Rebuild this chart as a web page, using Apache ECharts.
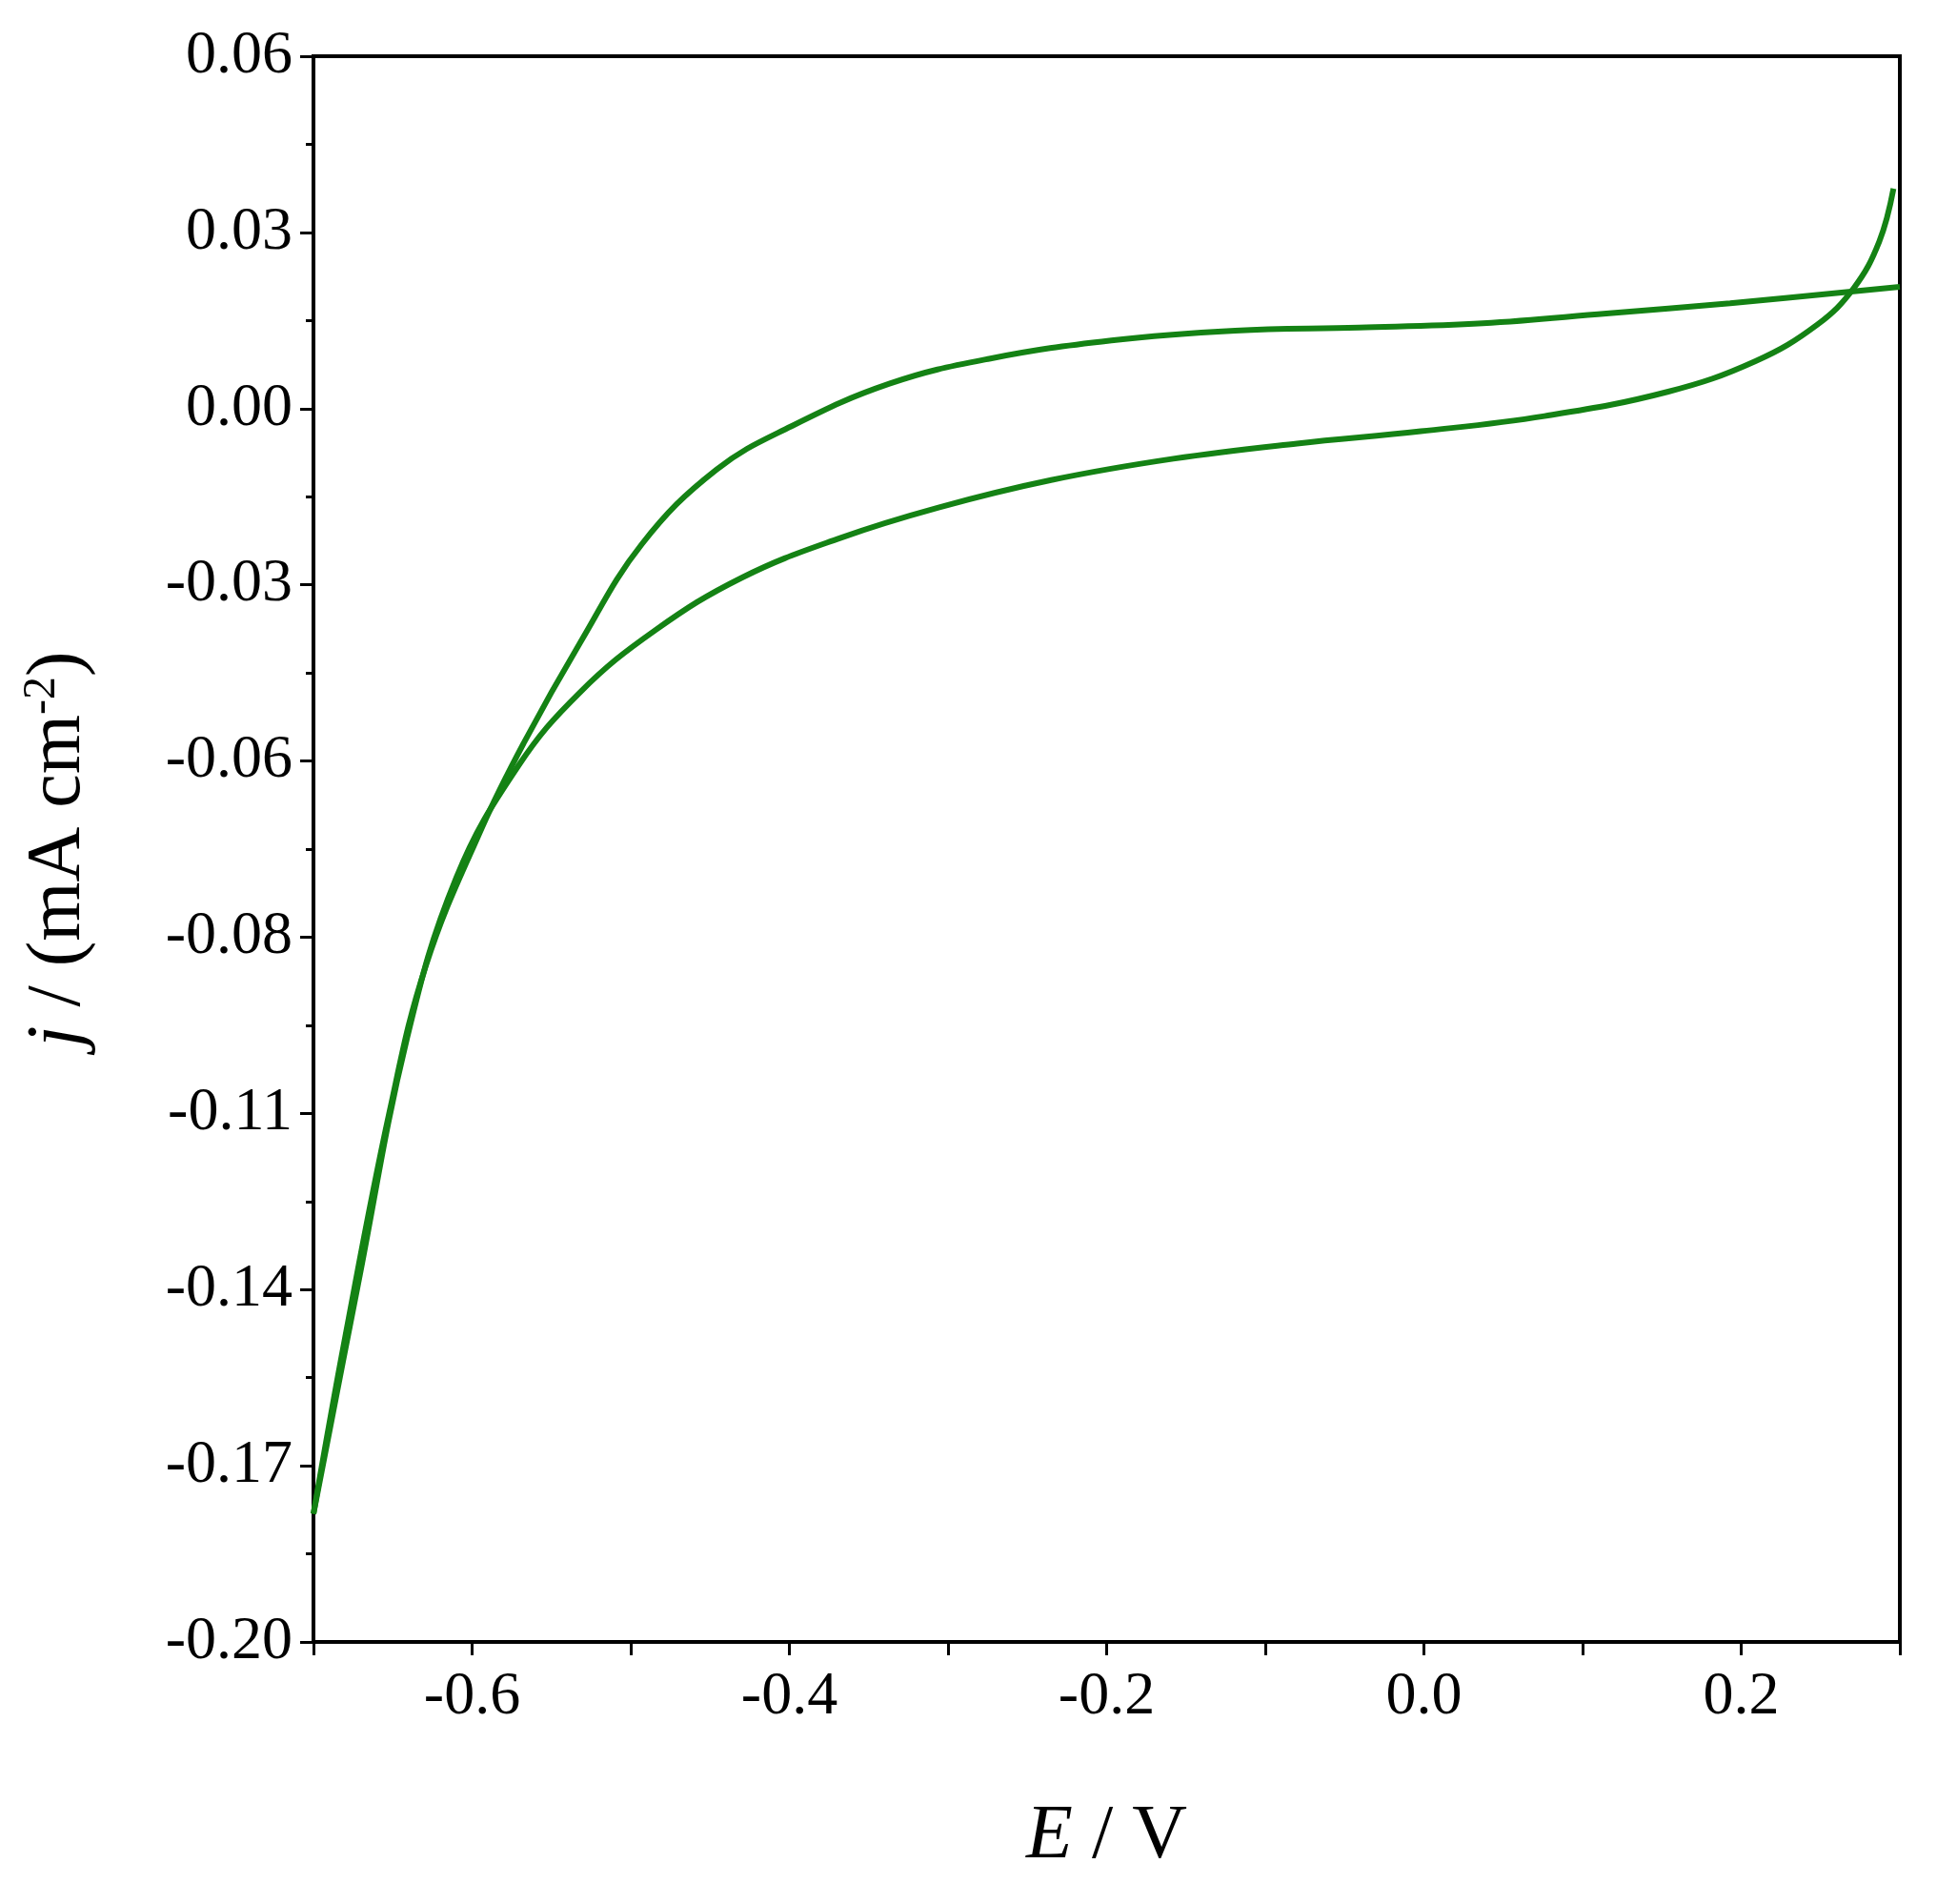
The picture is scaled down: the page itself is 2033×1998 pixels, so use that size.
<!DOCTYPE html>
<html><head><meta charset="utf-8">
<script src="https://cdn.jsdelivr.net/npm/echarts@6/dist/echarts.min.js"></script>
<style>html,body{margin:0;padding:0;background:#fff}#c{width:2033px;height:1998px}</style>
</head><body><div id="c"></div>
<script>
const forwardE = [-0.700,-0.680,-0.652,-0.629,-0.594,-0.567,-0.532,-0.493,-0.446,-0.399,-0.337,-0.274,-0.197,-0.119,-0.041,0.037,0.115,0.193,0.300];
const forwardJ = [-0.179,-0.150,-0.113,-0.089,-0.0666,-0.0524,-0.0362,-0.020,-0.0078,-0.0007,0.0063,0.0104,0.0134,0.0150,0.0155,0.0162,0.0178,0.0195,0.0222];
const reverseE = [-0.700,-0.672,-0.641,-0.610,-0.571,-0.532,-0.485,-0.430,-0.368,-0.306,-0.235,-0.158,-0.080,-0.002,0.076,0.154,0.209,0.248,0.271,0.287,0.296];
const reverseJ = [-0.179,-0.1415,-0.101,-0.0747,-0.0564,-0.0443,-0.0342,-0.0255,-0.0190,-0.0140,-0.0095,-0.0060,-0.0035,-0.0015,0.0010,0.0050,0.0100,0.0160,0.0220,0.0296,0.0383];
const chart = echarts.init(document.getElementById('c'));
const font = 'Liberation Serif';
const pair = (a,b)=>a.map((v,i)=>[v,b[i]]);
chart.setOption({
  animation:false,
  grid:{left:329,top:59,right:39,bottom:275,show:true,borderColor:'#000',borderWidth:4,backgroundColor:'transparent'},
  xAxis:{type:'value',min:-0.7,max:0.3,interval:0.1,
    name:'{i|E} / V',nameLocation:'middle',nameGap:165,
    nameTextStyle:{fontFamily:font,fontSize:80,color:'#000',rich:{i:{fontStyle:'italic',fontFamily:font,fontSize:80}}},
    axisLine:{onZero:false,lineStyle:{color:'#000',width:4}},
    axisTick:{inside:false,length:14,lineStyle:{width:3,color:'#000'}},
    splitLine:{show:false},
    axisLabel:{fontFamily:font,fontSize:64,color:'#000',margin:26,
      formatter:v=>{const k=Math.round(v*10);return (k%2===0 && k>-7)? (k/10).toFixed(1):'';}}},
  yAxis:{type:'value',min:-0.2,max:0.06,interval:0.26/9,
    name:'{i|j} / (mA cm{s|-2})',nameLocation:'middle',nameGap:225,nameRotate:90,
    nameTextStyle:{fontFamily:font,fontSize:80,color:'#000',rich:{i:{fontStyle:'italic',fontFamily:font,fontSize:80},s:{fontFamily:font,fontSize:48,verticalAlign:'top',padding:[0,0,36,0]}}},
    axisLine:{onZero:false,lineStyle:{color:'#000',width:4}},
    axisTick:{inside:false,length:14,lineStyle:{width:3,color:'#000'}},
    minorTick:{show:true,splitNumber:2,length:8,lineStyle:{width:3,color:'#000'}},
    splitLine:{show:false},minorSplitLine:{show:false},
    axisLabel:{fontFamily:font,fontSize:64,color:'#000',margin:22,formatter:v=>v.toFixed(2)}},
  series:[
    {type:'line',data:pair(forwardE,forwardJ),smooth:0.4,showSymbol:false,lineStyle:{color:'#148214',width:6}},
    {type:'line',data:pair(reverseE,reverseJ),smooth:0.4,showSymbol:false,lineStyle:{color:'#148214',width:6}}
  ]
});
</script></body></html>
